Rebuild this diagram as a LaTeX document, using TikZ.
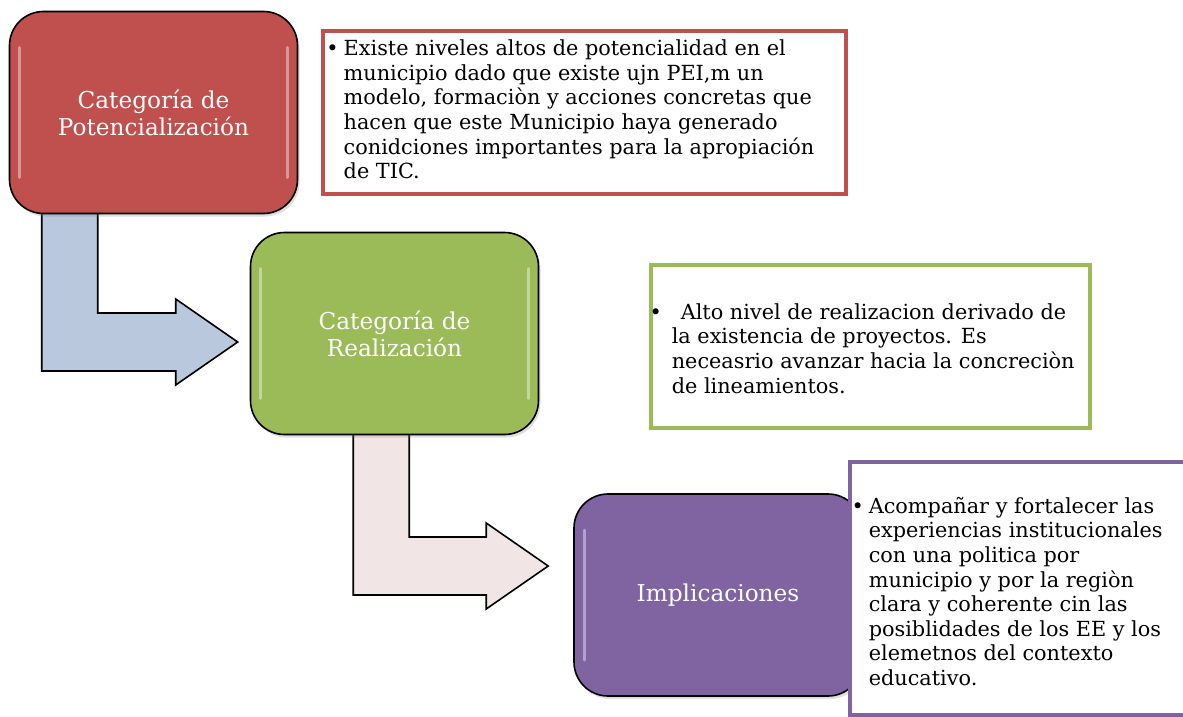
\documentclass[tikz,border=0pt]{standalone}
\usepackage{fontspec}
\setmainfont{DejaVu Serif}
\usetikzlibrary{positioning,calc,backgrounds,shadows}
\definecolor{potred}{HTML}{C0504D}
\definecolor{realgreen}{HTML}{9BBB59}
\definecolor{implpurple}{HTML}{8064A2}
\definecolor{arrowblue}{HTML}{B9C8DC}
\definecolor{arrowpink}{HTML}{F1E6E5}
\tikzset{
  catbox/.style={rectangle, rounded corners=17pt, draw=black, line width=0.8pt, text=white, align=center, font=\fontsize{11.6}{13.6}\selectfont, minimum width=144pt, minimum height=101pt,
    drop shadow={opacity=0.25, shadow xshift=1pt, shadow yshift=-1.5pt},
    path picture={
      \draw[white, opacity=0.4, line width=1.5pt, line cap=round] ([xshift=5pt,yshift=-18pt]path picture bounding box.north west) -- ([xshift=5pt,yshift=18pt]path picture bounding box.south west);
      \draw[white, opacity=0.4, line width=1.5pt, line cap=round] ([xshift=-5pt,yshift=-18pt]path picture bounding box.north east) -- ([xshift=-5pt,yshift=18pt]path picture bounding box.south east);
    }},
  notebox/.style={rectangle, line width=1.6pt, fill=white, inner sep=0pt, minimum height=81.5pt},
  notetext/.style={align=left, inner sep=0pt, anchor=west, font=\fontsize{10.4}{12.3}\selectfont},
  bentarrow/.style={draw=black, line width=0.8pt, line join=miter},
}
\newcommand{\bentarrow}[3]{% stem top, tip, fill
  \draw[bentarrow, fill=#3] ($(#1)+(-28,0)$) -- ++(56,0) |- ($(#2)+(-62,-29)$) -- ++(0,-14) -- (#2)
    -- ($(#2)+(-62,43)$) -- ++(0,-14) -| cycle;
}

\begin{document}
\begin{tikzpicture}[x=0.5pt, y=-0.5pt]
  \useasboundingbox (0,0) rectangle (1183,717);
  \clip (0,0) rectangle (1183,717);

  % categories
  \node[catbox, fill=potred] (potbox) at (153.5,112.5) {Categoría de\\Potencialización};
  \node[catbox, fill=realgreen] (realbox) at (394.5,333.5) {Categoría de\\Realización};
  \node[catbox, fill=implpurple] (implbox) at (718,595) {Implicaciones};

  % notes
  \node[notebox, draw=potred, right=11.5pt of potbox, minimum width=261.5pt] (potnote) {};
  \node[notetext, xshift=11pt, yshift=1.5pt] (pottext) at (potnote.west) {\llap{\textbullet\hspace{2.5pt}}Existe niveles altos de potencialidad en el\\
    municipio dado que existe ujn PEI,m un\\
    modelo, formaciòn y acciones concretas que\\
    hacen que este Municipio haya generado\\
    conidciones importantes para la apropiación\\
    de TIC.};

  \node[notebox, draw=realgreen, minimum width=219.5pt] (realnote) at (870.5,346.5) {};
  \node[notetext, xshift=11pt, yshift=-1pt] (realtext) at (realnote.west) {\llap{\textbullet\hspace{5pt}}\hspace{4.5pt}Alto nivel de realizacion derivado de\\
    la existencia de proyectos. Es\\
    neceasrio avanzar hacia la concreciòn\\
    de lineamientos.};

  \node[notebox, draw=implpurple, minimum width=175pt, minimum height=126.5pt] (implnote) at (1025,588.5) {};
  \node[notetext, xshift=10pt, yshift=-1.5pt] (impltext) at (implnote.west) {\llap{\textbullet\hspace{2.5pt}}Acompañar y fortalecer las\\
    experiencias institucionales\\
    con una politica por\\
    municipio y por la regiòn\\
    clara y coherente cin las\\
    posiblidades de los EE y los\\
    elemetnos del contexto\\
    educativo.};

  % bent arrows behind the boxes
  \coordinate (a1s) at ($(potbox.south west)+(61,-8)$);
  \coordinate (a1e) at ($(realbox.west)+(-12,8.5)$);
  \coordinate (a2s) at ($(realbox.south west)+(131.5,-8)$);
  \coordinate (a2e) at ($(implbox.west)+(-25,-29)$);
  \begin{pgfonlayer}{background}
    \bentarrow{a1s}{a1e}{arrowblue}
    \bentarrow{a2s}{a2e}{arrowpink}
  \end{pgfonlayer}
\end{tikzpicture}
\end{document}
